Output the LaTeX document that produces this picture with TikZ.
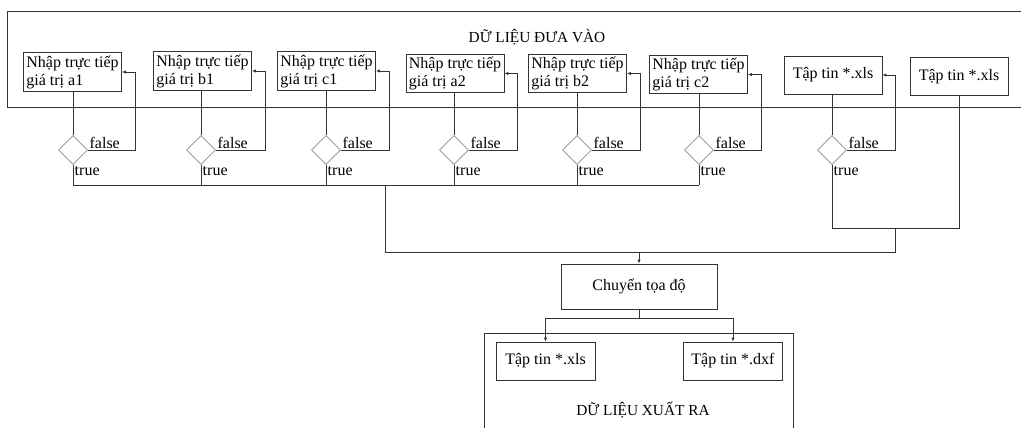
\documentclass[tikz,border=0pt]{standalone}
\usepackage{fontspec}
\setmainfont{Liberation Serif}
\usetikzlibrary{shapes.geometric,positioning,calc,arrows.meta}

\begin{document}
\begin{tikzpicture}[x=0.75pt,y=-0.75pt,
    font=\fontsize{12}{13.5}\selectfont,
    line width=0.6pt,
    inbox/.style={draw=black!80, minimum width=73.5pt, minimum height=28.5pt,
                  inner sep=2pt, align=left},
    outbox/.style={draw=black!80, minimum width=74.25pt, minimum height=28.5pt,
                   inner sep=2pt},
    test/.style={diamond, draw=black!45, minimum width=21.75pt,
                 minimum height=21.75pt, inner sep=0pt},
    link/.style={draw=black!80},
    arr/.style={draw=black!80, -{Latex[length=3pt,width=2.5pt]}},
    lbl/.style={inner sep=1pt},
    title/.style={font=\fontsize{11.5}{13}\selectfont},
  ]
  \useasboundingbox (0,0) rectangle (1021,428);

  % khung du lieu dua vao
  \draw[link] (1021,11) -- (7,11) -- (7,107) -- (1021,107);
  \node[title] (tin) at (537,37) {DỮ LIỆU ĐƯA VÀO};

  \node[inbox] (a1) at (72.5,72)  {Nhập trực tiếp\\giá trị a1};
  \node[inbox] (b1) at (202.5,71) {Nhập trực tiếp\\giá trị b1};
  \node[inbox] (c1) at (326.5,71) {Nhập trực tiếp\\giá trị c1};
  \node[inbox] (a2) at (455,73.5) {Nhập trực tiếp\\giá trị a2};
  \node[inbox] (b2) at (577.5,73.5) {Nhập trực tiếp\\giá trị b2};
  \node[inbox] (c2) at (698.5,74.5) {Nhập trực tiếp\\giá trị c2};
  \node[inbox] (x1) at (833,75)   {Tập tin *.xls};
  \node[inbox] (x2) at (959,76.5) {Tập tin *.xls};

  \foreach \n/\px in {a1/73,b1/201,c1/326,a2/454,b2/577,c2/699,x1/832}{
    \node[test] (d\n) at (\px,150) {};
    \draw[link] (\n.south -| d\n) -- (d\n.north);
    \draw[arr] (d\n.east) -| ($(\n.east)+(13,0)$) -- (\n.east);
    \node[lbl, anchor=south west] (f\n) at (d\n.east) {false};
    \node[lbl, anchor=north west] (t\n) at (d\n.south) {true};
  }

  % gom cac nhanh true
  \coordinate (busin) at (0,185);
  \coordinate (busx) at (0,228);
  \coordinate (jin) at (385,185);
  \coordinate (jx) at (895,228);
  \coordinate (merge) at (0,252);
  \foreach \n in {a1,b1,c1,a2,b2,c2}
    \draw[link] (d\n.south) -- (d\n.south |- busin);
  \draw[link] (da1.south |- busin) -- (dc2.south |- busin);
  \draw[link] (dx1.south) -- (dx1.south |- busx) -- (x2.south |- busx) -- (x2.south);
  \draw[link] (jin) -- (jin |- merge) -- (jx |- merge) -- (jx);

  \node[draw=black!80, minimum width=117pt, minimum height=33.75pt]
    (conv) at (639,286.5) {Chuyển tọa độ};
  \draw[arr] (conv.north |- merge) -- (conv.north);

  % khung du lieu xuat ra
  \draw[link] (484,428) -- (484,333) -- (793,333) -- (793,428);
  \node[outbox] (oxls) at (545.5,361) {Tập tin *.xls};
  \node[outbox] (odxf) at (733,361)   {Tập tin *.dxf};
  \node[title] (tout) at (643,410) {DỮ LIỆU XUẤT RA};

  \coordinate (split) at (0,318);
  \draw[link] (conv.south) -- (conv.south |- split);
  \draw[link] (oxls.north |- split) -- (odxf.north |- split);
  \draw[arr] (oxls.north |- split) -- (oxls.north);
  \draw[arr] (odxf.north |- split) -- (odxf.north);
\end{tikzpicture}
\end{document}
